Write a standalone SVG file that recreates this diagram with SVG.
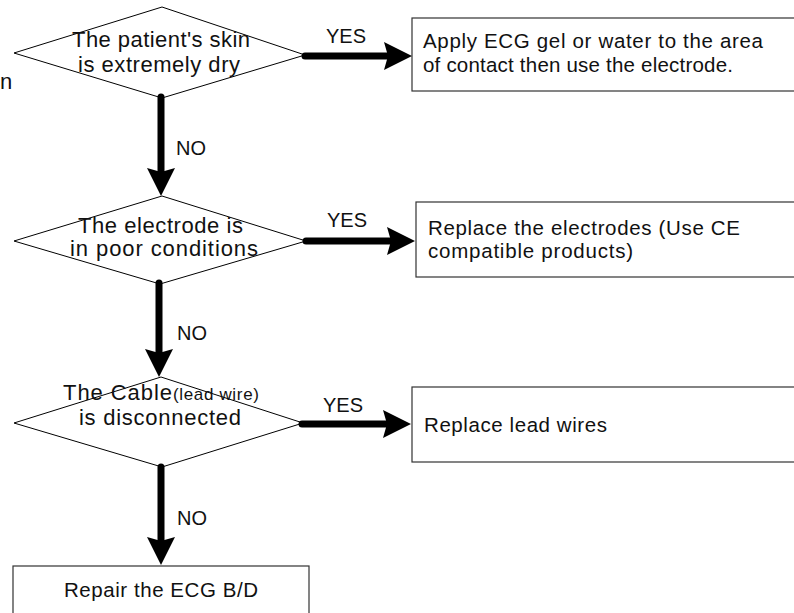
<svg xmlns="http://www.w3.org/2000/svg" width="794" height="613" viewBox="0 0 794 613">
<style>
.dia{fill:#fff;stroke:#000;stroke-width:1}
.box{fill:#fff;stroke:#333;stroke-width:1.2}
.dt{font-family:"Liberation Sans",Arial,sans-serif;font-size:22px;fill:#111}
.bt{font-family:"Liberation Sans",Arial,sans-serif;font-size:20.5px;fill:#111}
.lbl{font-family:"Liberation Sans",Arial,sans-serif;font-size:20px;fill:#111}
.arr{stroke:#000;stroke-width:7;fill:none;stroke-linecap:round;marker-end:url(#ah)}
</style>
<defs>
<marker id="ah" markerUnits="userSpaceOnUse" markerWidth="30" markerHeight="30" refX="13" refY="14" orient="auto" viewBox="0 0 30 30">
<path d="M0,0 L28,14 L0,28 L4,14 Z" fill="#000"/>
</marker>
</defs>
<rect width="794" height="613" fill="#fff"/>
<text class="dt" x="0" y="89">n</text>

<g id="d1">
<polygon class="dia" points="162,7 305,55 162,98 14,53"/>
<text class="dt" x="72" y="47" textLength="178" lengthAdjust="spacing">The patient's skin</text>
<text class="dt" x="78" y="72" textLength="162" lengthAdjust="spacing">is extremely dry</text>
</g>
<g id="b1">
<rect class="box" x="412" y="18" width="400" height="73"/>
<text class="bt" x="423" y="48" textLength="340" lengthAdjust="spacing">Apply ECG gel or water to the area</text>
<text class="bt" x="423" y="72" textLength="310" lengthAdjust="spacing">of contact then use the electrode.</text>
</g>
<g id="d2">
<polygon class="dia" points="162,196 306,241 160,284 14,241"/>
<text class="dt" x="78" y="233" textLength="165" lengthAdjust="spacing">The electrode is</text>
<text class="dt" x="70" y="256" textLength="188" lengthAdjust="spacing">in poor conditions</text>
</g>
<g id="b2">
<rect class="box" x="416" y="202" width="400" height="75"/>
<text class="bt" x="428" y="235" textLength="312" lengthAdjust="spacing">Replace the electrodes (Use CE</text>
<text class="bt" x="428" y="258" textLength="205" lengthAdjust="spacing">compatible products)</text>
</g>
<g id="d3">
<polygon class="dia" points="161,377 303,423 162,467 14,423"/>
<text class="dt" x="63" y="400"><tspan textLength="109" lengthAdjust="spacing">The Cable</tspan><tspan style="font-size:17px" textLength="86" lengthAdjust="spacing">(lead wire)</tspan></text>
<text class="dt" x="79" y="425" textLength="162" lengthAdjust="spacing">is disconnected</text>
</g>
<g id="b3">
<rect class="box" x="412" y="387" width="400" height="75"/>
<text class="bt" x="424" y="432" textLength="183" lengthAdjust="spacing">Replace lead wires</text>
</g>
<g id="b4">
<rect class="box" x="13" y="566" width="296" height="60"/>
<text class="bt" x="64" y="597" textLength="194" lengthAdjust="spacing">Repair the ECG B/D</text>
</g>

<g id="connectors">
<line class="arr" x1="305" y1="56" x2="397" y2="56"/>
<line class="arr" x1="306" y1="241" x2="400" y2="241"/>
<line class="arr" x1="302" y1="424" x2="396" y2="424"/>
<line class="arr" x1="161" y1="97" x2="161" y2="181"/>
<line class="arr" x1="159" y1="283" x2="159" y2="362"/>
<line class="arr" x1="161" y1="467" x2="161" y2="550"/>
<text class="lbl" x="326" y="43">YES</text>
<text class="lbl" x="327" y="227">YES</text>
<text class="lbl" x="323" y="412">YES</text>
<text class="lbl" x="176" y="155">NO</text>
<text class="lbl" x="177" y="340">NO</text>
<text class="lbl" x="177" y="525">NO</text>
</g>
</svg>
